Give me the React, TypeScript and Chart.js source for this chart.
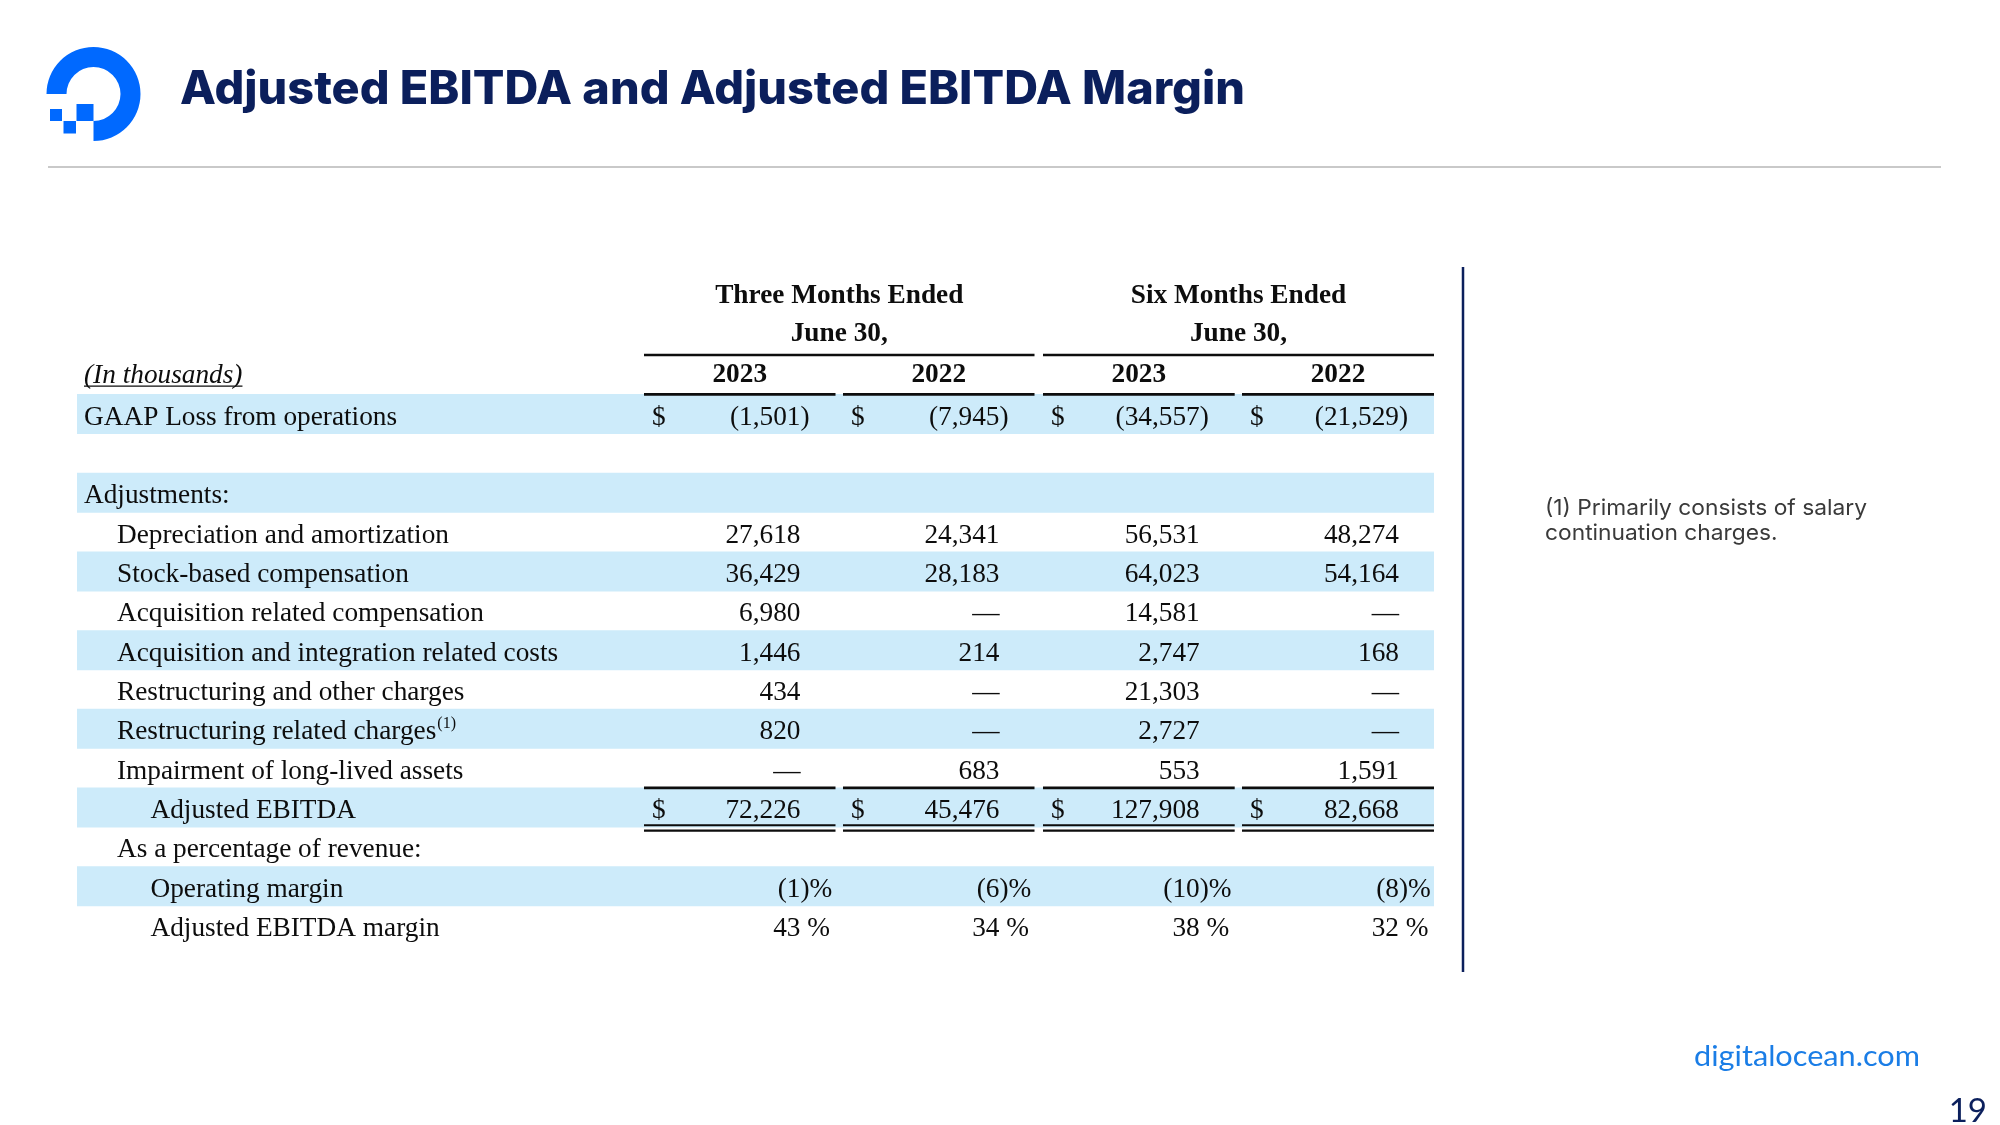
import React, { useEffect, useRef } from "react";
import { Chart, registerables } from "chart.js";

Chart.register(...registerables);

// ---------- data ----------
const TITLE = "Adjusted EBITDA and Adjusted EBITDA Margin";
const UNIT_LABEL = "(In thousands)";
const GROUP_HEADERS = ["Three Months Ended", "Six Months Ended"];
const GROUP_SUBHEAD = "June 30,";
const YEAR_LABELS = ["2023", "2022", "2023", "2022"];

const ROW_LABELS = [
  "GAAP Loss from operations",
  "",
  "Adjustments:",
  "Depreciation and amortization",
  "Stock-based compensation",
  "Acquisition related compensation",
  "Acquisition and integration related costs",
  "Restructuring and other charges",
  "Restructuring related charges",
  "Impairment of long-lived assets",
  "Adjusted EBITDA",
  "As a percentage of revenue:",
  "Operating margin",
  "Adjusted EBITDA margin",
];
const ROW_INDENT = [0, 0, 0, 1, 1, 1, 1, 1, 1, 1, 2, 1, 2, 2];
const ROW_KIND = ["money", "blank", "section", "num", "num", "num", "num", "num", "num", "num", "money", "section", "pct", "pct"];
const ROW_SHADED = [true, false, true, false, true, false, true, false, true, false, true, false, true, false];
const ROW_FOOTNOTE = [false, false, false, false, false, false, false, false, true, false, false, false, false, false];

const Q2_2023 = [-1501, null, null, 27618, 36429, 6980, 1446, 434, 820, 0, 72226, null, -1, 43];
const Q2_2022 = [-7945, null, null, 24341, 28183, 0, 214, 0, 0, 683, 45476, null, -6, 34];
const H1_2023 = [-34557, null, null, 56531, 64023, 14581, 2747, 21303, 2727, 553, 127908, null, -10, 38];
const H1_2022 = [-21529, null, null, 48274, 54164, 0, 168, 0, 0, 1591, 82668, null, -8, 32];
const COLUMNS = [Q2_2023, Q2_2022, H1_2023, H1_2022];

const FOOTNOTE_MARK = "(1)";
const FOOTNOTE_LINES = ["(1) Primarily consists of salary", "continuation charges."];
const SITE = "digitalocean.com";
const PAGE_NO = "19";

const HEADER_ROWS = ["group", "subhead", "year"];
const CATEGORIES = [...HEADER_ROWS, ...ROW_LABELS.map((l, i) => l || `blank-${i}`)];

// ---------- layout (table units = px from table left edge) ----------
const TABLE_W = 1357;
const COL_SEGMENTS: [number, number][] = [
  [567, 758.5],
  [766, 957.5],
  [966, 1157.7],
  [1165, 1357],
];
const INDENTS = [7, 40, 73.5];
const BAND_COLOR = "#CDEBFA";
const NAVY = "#0B1F5C";
const BLUE = "#0069FF";
const SERIF = "'Liberation Serif', 'Times New Roman', serif";
const BODY_PX = 27.3;

function fmtParts(v: number, kind: string): [string, string] {
  if (kind === "pct") {
    return v < 0 ? ["(" + Math.abs(v), ")%"] : [String(v), " %"];
  }
  if (v === 0) return ["\u2014", ""];
  const s = Math.abs(v).toLocaleString("en-US");
  return v < 0 ? ["(" + s, ")"] : [s, ""];
}

const slidePlugin = {
  id: "slide",
  beforeDatasetsDraw(chart: any) {
    const ctx: CanvasRenderingContext2D = chart.ctx;
    ctx.save();
    // logo
    ctx.fillStyle = BLUE;
    const cx = 93.5, cy = 94, R = 47, r = 27;
    ctx.beginPath();
    ctx.arc(cx, cy, R, Math.PI, Math.PI * 2.5, false);
    ctx.lineTo(cx, cy + r);
    ctx.arc(cx, cy, r, Math.PI * 2.5, Math.PI, true);
    ctx.closePath();
    ctx.fill();
    ctx.fillRect(76.5, 104, 17, 17);
    ctx.fillRect(63.5, 121, 12.5, 12.5);
    ctx.fillRect(50, 109, 12, 12);

    // title
    ctx.fillStyle = NAVY;
    ctx.font = "800 46px Inter";
    ctx.textBaseline = "alphabetic";
    ctx.textAlign = "left";
    const tw = ctx.measureText(TITLE).width;
    ctx.save();
    ctx.translate(180, 104);
    ctx.scale(1065 / tw, 1);
    ctx.fillText(TITLE, 0, 0);
    ctx.restore();

    // header rule
    ctx.strokeStyle = "#C9C9C9";
    ctx.lineWidth = 2;
    ctx.beginPath();
    ctx.moveTo(48, 167);
    ctx.lineTo(1941, 167);
    ctx.stroke();

    // vertical divider
    ctx.strokeStyle = NAVY;
    ctx.lineWidth = 2.5;
    ctx.beginPath();
    ctx.moveTo(1463, 267);
    ctx.lineTo(1463, 972);
    ctx.stroke();

    // footnote
    ctx.fillStyle = "#3A3A3A";
    ctx.font = "400 22px Inter";
    const fw = ctx.measureText(FOOTNOTE_LINES[0]).width;
    const fs = 322 / fw;
    FOOTNOTE_LINES.forEach((line, i) => {
      ctx.save();
      ctx.translate(1545, 515 + i * 25);
      ctx.scale(fs, 1);
      ctx.fillText(line, 0, 0);
      ctx.restore();
    });

    // site + page number
    ctx.fillStyle = "#1A7DE6";
    ctx.font = "400 28px Lato";
    const sw = ctx.measureText(SITE).width;
    ctx.save();
    ctx.translate(1694, 1066);
    ctx.scale(226 / sw, 1);
    ctx.fillText(SITE, 0, 0);
    ctx.restore();

    ctx.fillStyle = NAVY;
    ctx.font = "400 33px Lato";
    ctx.textAlign = "right";
    ctx.fillText(PAGE_NO, 1987, 1122);
    ctx.restore();
  },
  afterDatasetsDraw(chart: any) {
    const ctx: CanvasRenderingContext2D = chart.ctx;
    const xs = chart.scales.x;
    const ys = chart.scales.y;
    const X = (v: number) => xs.getPixelForValue(v);
    const Y = (i: number) => ys.getPixelForValue(i);
    const rowH = Y(1) - Y(0);
    const boundary = (i: number) => Y(i) - rowH / 2;
    ctx.save();
    ctx.fillStyle = "#0d0d0d";
    ctx.strokeStyle = "#0d0d0d";

    // group headers
    ctx.font = `bold ${BODY_PX}px ${SERIF}`;
    ctx.textAlign = "center";
    ctx.textBaseline = "alphabetic";
    GROUP_HEADERS.forEach((g, gi) => {
      const a = COL_SEGMENTS[gi * 2][0];
      const b = COL_SEGMENTS[gi * 2 + 1][1];
      const mid = X((a + b) / 2);
      ctx.fillText(g, mid, Y(0) + 7);
      ctx.fillText(GROUP_SUBHEAD, mid, Y(1) + 6);
      ctx.lineWidth = 2.6;
      ctx.beginPath();
      ctx.moveTo(X(a), boundary(2));
      ctx.lineTo(X(b), boundary(2));
      ctx.stroke();
    });
    YEAR_LABELS.forEach((y, ci) => {
      const [a, b] = COL_SEGMENTS[ci];
      ctx.fillText(y, X((a + b) / 2), Y(2) + 7.5);
      ctx.lineWidth = 2.6;
      ctx.beginPath();
      ctx.moveTo(X(a), boundary(3));
      ctx.lineTo(X(b), boundary(3));
      ctx.stroke();
    });

    // unit label
    ctx.font = `italic ${BODY_PX}px ${SERIF}`;
    ctx.textAlign = "left";
    const uy = Y(2) + 8.5;
    ctx.fillText(UNIT_LABEL, X(INDENTS[0]), uy);
    const uw = ctx.measureText(UNIT_LABEL).width;
    ctx.lineWidth = 1.3;
    ctx.beginPath();
    ctx.moveTo(X(INDENTS[0]), uy + 3);
    ctx.lineTo(X(INDENTS[0]) + uw, uy + 3);
    ctx.stroke();

    // body rows
    ROW_LABELS.forEach((label, ri) => {
      const i = ri + HEADER_ROWS.length;
      const base = Y(i) + 10.5;
      ctx.font = `${BODY_PX}px ${SERIF}`;
      ctx.textAlign = "left";
      if (label) {
        const lx = X(INDENTS[ROW_INDENT[ri]]);
        ctx.fillText(label, lx, base);
        if (ROW_FOOTNOTE[ri]) {
          const lw = ctx.measureText(label).width;
          ctx.font = `16px ${SERIF}`;
          ctx.fillText(FOOTNOTE_MARK, lx + lw + 1, base - 11);
          ctx.font = `${BODY_PX}px ${SERIF}`;
        }
      }
      const kind = ROW_KIND[ri];
      COLUMNS.forEach((col, ci) => {
        const v = col[ri];
        if (v === null || v === undefined) return;
        const [a, b] = COL_SEGMENTS[ci];
        if (kind === "money") {
          ctx.textAlign = "left";
          ctx.fillText("$", X(a + 8), base);
        }
        const [main, suffix] = fmtParts(v, kind);
        const rx = X(b - 35);
        ctx.textAlign = "right";
        ctx.fillText(main, rx, base);
        if (suffix) {
          ctx.textAlign = "left";
          ctx.fillText(suffix, rx, base);
        }
      });
    });

    // lines around Adjusted EBITDA
    const adjIdx = ROW_LABELS.indexOf("Adjusted EBITDA") + HEADER_ROWS.length;
    COL_SEGMENTS.forEach(([a, b]) => {
      ctx.lineWidth = 2.6;
      ctx.beginPath();
      ctx.moveTo(X(a), boundary(adjIdx));
      ctx.lineTo(X(b), boundary(adjIdx));
      ctx.stroke();
      ctx.lineWidth = 2.2;
      const bb = boundary(adjIdx + 1);
      ctx.beginPath();
      ctx.moveTo(X(a), bb - 2);
      ctx.lineTo(X(b), bb - 2);
      ctx.moveTo(X(a), bb + 3.3);
      ctx.lineTo(X(b), bb + 3.3);
      ctx.stroke();
    });
    ctx.restore();
  },
};

export default function App() {
  const ref = useRef<HTMLCanvasElement | null>(null);
  useEffect(() => {
    document.body.style.margin = "0";
    const canvas = ref.current;
    if (!canvas) return;
    const bandData = CATEGORIES.map((_, i) => {
      const ri = i - HEADER_ROWS.length;
      return ri >= 0 && ROW_SHADED[ri] ? [0, TABLE_W] : null;
    });
    const chart = new Chart(canvas, {
      type: "bar",
      data: {
        labels: CATEGORIES,
        datasets: [
          {
            label: "row bands",
            data: bandData as any,
            backgroundColor: BAND_COLOR,
            borderWidth: 0,
            barPercentage: 1,
            categoryPercentage: 1,
          },
        ],
      },
      options: {
        indexAxis: "y",
        responsive: false,
        animation: false,
        devicePixelRatio: 1,
        layout: { padding: { left: 77, right: 566, top: 276.3, bottom: 179.7 } },
        scales: {
          x: { type: "linear", min: 0, max: TABLE_W, display: false },
          y: { type: "category", display: false, offset: true },
        },
        plugins: {
          legend: { display: false },
          tooltip: { enabled: false },
          title: { display: false },
        },
      },
      plugins: [slidePlugin],
    });
    return () => chart.destroy();
  }, []);
  return (
    <div style={{ position: "absolute", left: 0, top: 0, width: 2000, height: 1125, background: "#fff" }}>
      <canvas ref={ref} width={2000} height={1125} style={{ display: "block", width: 2000, height: 1125 }} />
    </div>
  );
}
